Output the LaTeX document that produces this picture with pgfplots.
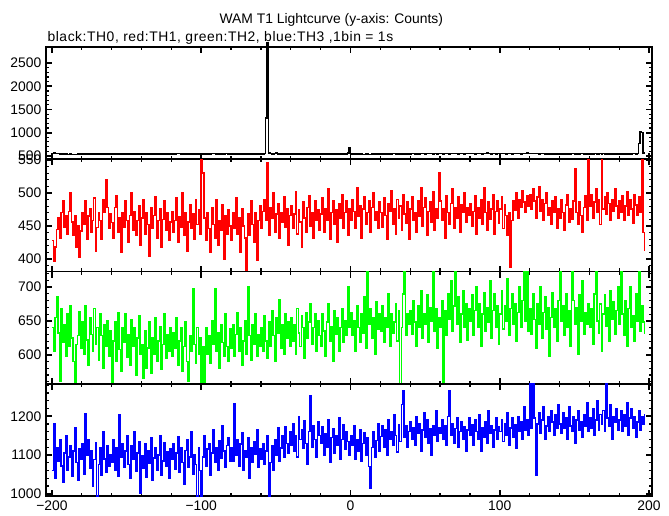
\documentclass[border=0pt]{standalone}
\usepackage{fontspec}
\setmainfont{Liberation Sans}
\usepackage{pgfplots}
\usepackage{pgfplotstable}
\pgfplotsset{compat=1.18}

% TH0 (black), bins -200 ... 197
\pgfplotstableread[row sep=\\]{y\\
555\\560\\552\\548\\545\\538\\542\\535\\530\\538\\532\\528\\535\\530\\526\\533\\528\\535\\530\\538\\
542\\548\\536\\540\\545\\538\\532\\540\\536\\530\\542\\545\\538\\534\\540\\536\\530\\538\\544\\540\\
536\\532\\540\\546\\538\\534\\528\\540\\542\\536\\532\\538\\546\\540\\535\\530\\538\\534\\540\\536\\
540\\545\\538\\532\\536\\542\\538\\530\\534\\540\\546\\542\\538\\534\\540\\544\\538\\532\\536\\540\\
538\\534\\540\\546\\550\\544\\538\\532\\540\\536\\542\\548\\540\\536\\530\\538\\544\\540\\536\\542\\
546\\540\\536\\542\\538\\534\\540\\546\\552\\548\\540\\536\\542\\538\\532\\540\\555\\548\\542\\538\\
534\\540\\536\\542\\548\\540\\536\\532\\538\\544\\540\\536\\542\\538\\534\\540\\546\\540\\536\\542\\
540\\536\\544\\1320\\2950\\560\\548\\542\\538\\544\\556\\540\\536\\530\\538\\542\\536\\532\\540\\536\\
530\\536\\540\\534\\538\\544\\540\\536\\532\\538\\542\\536\\530\\534\\540\\544\\538\\534\\540\\536\\
540\\536\\542\\538\\534\\540\\546\\540\\536\\532\\538\\542\\536\\540\\546\\540\\536\\542\\560\\665\\
548\\540\\536\\530\\538\\534\\540\\536\\532\\528\\534\\538\\532\\530\\536\\540\\534\\538\\532\\536\\
540\\544\\538\\534\\540\\546\\542\\538\\544\\548\\542\\538\\534\\540\\546\\542\\538\\544\\540\\536\\
542\\548\\544\\538\\542\\546\\540\\544\\550\\546\\540\\544\\548\\552\\546\\540\\544\\548\\542\\546\\
550\\546\\542\\548\\552\\546\\540\\544\\550\\554\\548\\544\\540\\546\\550\\544\\540\\546\\552\\548\\
544\\550\\548\\542\\546\\552\\548\\544\\540\\546\\550\\556\\550\\546\\542\\548\\544\\540\\546\\550\\
548\\544\\550\\546\\542\\548\\552\\546\\540\\544\\548\\554\\550\\546\\542\\548\\544\\550\\556\\552\\
548\\544\\550\\546\\552\\548\\542\\546\\550\\544\\540\\546\\542\\538\\544\\540\\536\\542\\546\\540\\
544\\540\\536\\542\\546\\540\\536\\542\\548\\544\\540\\546\\542\\538\\544\\548\\542\\538\\544\\540\\
546\\542\\538\\544\\548\\542\\538\\544\\540\\546\\542\\538\\544\\540\\536\\542\\546\\540\\536\\542\\
538\\544\\540\\536\\542\\546\\540\\536\\542\\548\\544\\538\\546\\760\\1010\\1000\\560\\545\\
}\tzero

% TH1 (red)
\pgfplotstableread[row sep=\\]{y\\
428\\396\\418\\445\\462\\432\\470\\488\\448\\466\\438\\472\\500\\456\\436\\465\\418\\450\\402\\442\\
470\\452\\488\\430\\465\\476\\440\\458\\492\\412\\448\\470\\458\\430\\490\\470\\520\\478\\446\\468\\
455\\432\\478\\496\\440\\462\\410\\470\\448\\488\\458\\426\\466\\500\\444\\472\\436\\458\\480\\420\\
462\\490\\438\\470\\452\\404\\478\\446\\466\\494\\432\\458\\476\\418\\460\\488\\444\\470\\428\\456\\
472\\440\\458\\492\\426\\464\\448\\500\\436\\470\\412\\456\\482\\446\\468\\430\\490\\452\\474\\438\\
551\\530\\462\\428\\470\\446\\410\\478\\452\\432\\490\\420\\458\\444\\482\\400\\466\\438\\474\\450\\
428\\470\\446\\492\\438\\462\\410\\476\\450\\432\\383\\468\\436\\488\\452\\426\\470\\398\\458\\480\\
446\\472\\490\\458\\545\\436\\478\\462\\500\\440\\468\\484\\432\\470\\456\\494\\448\\476\\420\\466\\
480\\446\\468\\502\\438\\474\\456\\418\\486\\462\\440\\478\\496\\450\\470\\432\\488\\458\\474\\444\\
468\\492\\440\\476\\458\\506\\430\\470\\488\\452\\474\\426\\484\\462\\498\\446\\470\\488\\436\\476\\
458\\490\\472\\446\\508\\464\\480\\432\\476\\494\\452\\470\\488\\440\\478\\500\\458\\472\\446\\486\\
470\\448\\492\\466\\430\\484\\472\\504\\452\\476\\438\\490\\462\\480\\444\\498\\468\\454\\486\\430\\
476\\494\\458\\470\\440\\488\\464\\508\\450\\478\\492\\436\\472\\486\\456\\502\\444\\476\\462\\530\\
488\\458\\476\\432\\496\\470\\452\\484\\506\\446\\478\\462\\494\\440\\482\\470\\500\\456\\478\\466\\
484\\450\\472\\496\\438\\478\\462\\490\\452\\508\\470\\444\\486\\460\\476\\498\\438\\472\\488\\454\\
476\\494\\446\\482\\466\\436\\470\\387\\458\\488\\474\\500\\462\\490\\478\\504\\486\\470\\496\\480\\
498\\476\\506\\488\\462\\494\\510\\472\\490\\458\\484\\500\\466\\478\\452\\488\\470\\494\\446\\476\\
462\\490\\470\\444\\482\\498\\456\\476\\460\\488\\537\\470\\452\\486\\466\\440\\478\\496\\458\\551\\
480\\498\\462\\486\\506\\470\\490\\452\\551\\476\\494\\468\\500\\484\\458\\490\\472\\506\\480\\462\\
488\\470\\496\\458\\480\\502\\466\\490\\476\\454\\498\\482\\466\\494\\470\\551\\440\\412\\
}\tone

% TH2 (green)
\pgfplotstableread[row sep=\\]{y\\
640\\605\\655\\686\\632\\560\\668\\618\\645\\598\\660\\612\\672\\625\\590\\557\\615\\628\\664\\610\\
648\\600\\672\\622\\584\\655\\630\\605\\668\\615\\640\\592\\660\\628\\580\\645\\612\\650\\598\\635\\
557\\620\\648\\590\\662\\608\\575\\640\\618\\660\\596\\630\\585\\652\\612\\640\\570\\625\\658\\600\\
615\\565\\635\\580\\610\\648\\572\\625\\600\\655\\590\\620\\642\\578\\615\\660\\595\\630\\605\\640\\
598\\632\\610\\655\\585\\620\\640\\575\\612\\648\\590\\560\\628\\605\\697\\615\\588\\640\\600\\625\\
557\\612\\557\\640\\600\\628\\588\\650\\615\\697\\605\\632\\580\\645\\618\\598\\660\\612\\590\\638\\
610\\645\\598\\630\\662\\605\\640\\585\\620\\650\\600\\700\\628\\592\\645\\615\\660\\598\\630\\612\\
640\\605\\658\\620\\595\\648\\612\\665\\628\\590\\655\\632\\682\\610\\645\\600\\660\\625\\648\\612\\
655\\620\\645\\600\\668\\632\\612\\658\\640\\595\\662\\625\\648\\675\\615\\640\\660\\605\\650\\628\\
612\\660\\635\\598\\648\\675\\620\\642\\590\\665\\630\\655\\605\\640\\668\\618\\650\\628\\700\\640\\
662\\628\\650\\605\\672\\640\\618\\660\\632\\685\\610\\723\\645\\668\\625\\655\\600\\678\\638\\660\\
635\\672\\618\\655\\640\\690\\612\\660\\632\\648\\675\\620\\665\\557\\640\\690\\723\\628\\660\\645\\
665\\630\\680\\648\\612\\672\\640\\695\\625\\660\\645\\688\\618\\670\\650\\723\\635\\668\\610\\655\\
640\\680\\557\\665\\628\\690\\652\\710\\635\\672\\723\\645\\685\\618\\660\\695\\640\\675\\622\\668\\
650\\688\\628\\665\\700\\640\\675\\612\\660\\692\\635\\670\\648\\710\\625\\665\\690\\640\\672\\615\\
660\\695\\638\\672\\650\\712\\628\\668\\690\\645\\675\\620\\662\\700\\640\\680\\723\\650\\723\\635\\
668\\630\\690\\652\\610\\675\\645\\700\\625\\662\\685\\638\\670\\598\\655\\692\\640\\668\\620\\680\\
723\\650\\672\\628\\690\\640\\665\\612\\723\\680\\645\\670\\600\\688\\650\\710\\630\\662\\645\\675\\
640\\668\\615\\690\\723\\650\\632\\675\\605\\660\\688\\642\\670\\620\\695\\652\\678\\630\\665\\700\\
645\\723\\660\\628\\680\\612\\668\\700\\640\\658\\620\\690\\650\\723\\635\\672\\648\\630\\
}\ttwo

% TH3 (blue)
\pgfplotstableread[row sep=\\]{y\\
1060\\1180\\1040\\1120\\1085\\1140\\1072\\1030\\1105\\1150\\1060\\1095\\1125\\1045\\1110\\1170\\1080\\1035\\1115\\1090\\
1128\\1050\\1206\\1098\\1140\\1065\\1110\\1020\\1088\\1132\\994\\1075\\1118\\1048\\1160\\1090\\1055\\1125\\1070\\1100\\
1082\\1140\\1060\\1118\\1045\\1205\\1095\\1130\\1068\\1110\\1150\\1075\\1040\\1125\\1090\\1160\\1058\\1105\\1135\\1000\\
1098\\1065\\1128\\1042\\1110\\1078\\1145\\1035\\1092\\1120\\1060\\1100\\1150\\1048\\1085\\1132\\1070\\1108\\1040\\1115\\
1090\\1130\\1062\\1105\\1148\\1055\\1118\\1080\\1025\\1112\\1140\\1068\\1095\\1160\\1050\\1100\\1075\\994\\1120\\1060\\
994\\1095\\1150\\1070\\1115\\1130\\1048\\1105\\1165\\1080\\1120\\1060\\1138\\1092\\1175\\1110\\1068\\1125\\1145\\1085\\
1118\\1085\\1232\\1100\\1140\\1072\\1128\\1158\\1060\\1110\\1095\\1145\\1040\\1120\\1080\\1135\\1102\\1165\\1068\\1115\\
1090\\1130\\1075\\1110\\1150\\994\\1080\\1125\\1060\\1140\\1100\\1170\\1085\\1118\\1150\\1095\\1172\\1130\\1105\\1160\\
1125\\1180\\1110\\1150\\1095\\1200\\1140\\1165\\1118\\1188\\1130\\1075\\1160\\1252\\1120\\1175\\1140\\1095\\1185\\1150\\
1130\\1172\\1098\\1155\\1120\\1190\\1080\\1145\\1168\\1105\\1150\\1125\\1195\\1090\\1140\\1178\\1115\\1160\\1135\\1100\\
1150\\1125\\1175\\1090\\1140\\1110\\1165\\1085\\1130\\1158\\1100\\1145\\1070\\1013\\1120\\1160\\1095\\1138\\1180\\1110\\
1148\\1175\\1120\\1165\\1098\\1190\\1140\\1160\\1125\\1205\\1150\\1108\\1178\\1135\\1230\\1265\\1145\\1175\\1120\\1160\\
1185\\1140\\1170\\1125\\1200\\1155\\1180\\1110\\1165\\1210\\1145\\1190\\1130\\1168\\1100\\1175\\1150\\1215\\1135\\1170\\
1155\\1190\\1140\\1175\\1125\\1200\\1265\\1150\\1180\\1130\\1168\\1195\\1120\\1160\\1185\\1140\\1172\\1110\\1165\\1195\\
1150\\1178\\1125\\1190\\1160\\1140\\1205\\1110\\1170\\1145\\1185\\1130\\1215\\1155\\1175\\1120\\1165\\1195\\1140\\1172\\
1160\\1190\\1135\\1180\\1150\\1210\\1125\\1170\\1195\\1145\\1178\\1118\\1200\\1160\\1185\\1140\\1225\\1165\\1190\\1150\\
1284\\1170\\1284\\1195\\1048\\1180\\1210\\1155\\1190\\1225\\1140\\1175\\1200\\1160\\1215\\1185\\1150\\1205\\1170\\1230\\
1180\\1155\\1210\\1170\\1195\\1140\\1225\\1175\\1160\\1200\\1130\\1190\\1215\\1165\\1185\\1145\\1205\\1175\\1235\\1160\\
1195\\1170\\1220\\1150\\1190\\1240\\1165\\1205\\1180\\1215\\1160\\1284\\1195\\1175\\1230\\1140\\1200\\1185\\1220\\1165\\
1190\\1215\\1160\\1205\\1175\\1235\\1150\\1195\\1220\\1170\\1200\\1145\\1185\\1215\\1165\\1200\\1180\\1205\\
}\tthree

\pgfplotsset{
  panel/.style={
    scale only axis, width=454.5pt, height=84.19pt,
    anchor=south west,
    xmin=-204, xmax=202,
    xtick={-200,-100,0,100,200}, xticklabels={},
    minor x tick num=4, minor y tick num=4,
    tick align=inside,
    major tick length=4.5pt, minor tick length=2.4pt,
    every major tick/.style={line width=1.3pt, black},
    every minor tick/.style={line width=0.9pt, black},
    axis line style={line width=1.2pt},
    tick label style={font=\fontsize{10.4}{12}\selectfont},
    /pgf/number format/assume math mode=true,
    /pgf/number format/1000 sep={},
    scaled y ticks=false,
  },
  lc/.style={const plot, mark=none, line width=1.1pt},
}

\begin{document}
\begin{tikzpicture}
\begin{axis}[panel, at={(0,0)}, ymin=425, ymax=2850,
  ytick={500,1000,...,2500}, clip=false]
\addplot[lc, black] table[x expr=\coordindex-200, y=y]{\tzero};
\end{axis}
\begin{axis}[panel, at={(0,-84.19pt)}, ymin=381, ymax=551,
  ytick={350,400,...,600}]
\addplot[lc, red] table[x expr=\coordindex-200, y=y]{\tone};
\end{axis}
\begin{axis}[panel, at={(0,-168.38pt)}, ymin=557, ymax=723,
  ytick={550,600,...,750}]
\addplot[lc, green] table[x expr=\coordindex-200, y=y]{\ttwo};
\end{axis}
\begin{axis}[panel, at={(0,-252.57pt)}, ymin=994, ymax=1284,
  ytick={900,1000,...,1300},
  xticklabels={−200,−100,0,100,200}]
\addplot[lc, blue] table[x expr=\coordindex-200, y=y]{\tthree};
\end{axis}
\node[font=\fontsize{10.4}{12}\selectfont] at (214pt,104.5pt) {WAM T1 Lightcurve (y-axis: Counts)};
\node[font=\fontsize{10.4}{12}\selectfont\addfontfeatures{LetterSpace=4}, anchor=west, inner sep=0pt] at (1pt,91pt) {black:TH0, red:TH1, green:TH2, blue:TH3 ,1bin = 1s};
\path (-34.5pt,-266.82pt) rectangle (467.25pt,119.44pt);
\end{tikzpicture}
\end{document}
